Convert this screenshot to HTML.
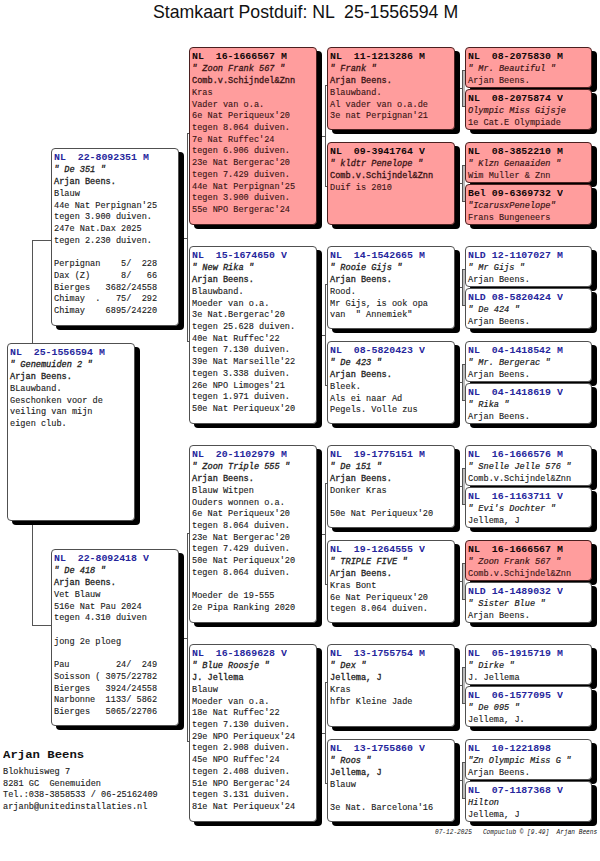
<!DOCTYPE html>
<html><head><meta charset="utf-8"><style>
html,body{margin:0;padding:0;background:#fff;}
body{width:600px;height:861px;position:relative;overflow:hidden;font-family:"Liberation Mono",monospace;}
.t{position:absolute;left:153px;top:0px;font-family:"Liberation Sans",sans-serif;font-size:17.7px;color:#111;white-space:pre;line-height:24px;}
.r{-webkit-text-stroke:.12px #1a1a1a;}
.b{position:absolute;box-sizing:border-box;width:128px;border:1px solid #505050;border-radius:4px;background:#fff;box-shadow:5px 4px 0 0 #000;color:#1a1a1a;}
.b.p{background:#ff9d9d;border-color:#4a2020;}
.l{position:absolute;background:#555;}
.h,.n,.o,.r,.i{position:absolute;left:2px;white-space:pre;}
.h{font-weight:bold;font-size:9.9px;line-height:11px;color:#26269c;transform:scaleY(.87);transform-origin:0 8px;}
.p .h{color:#120808;}
.n,.o,.r,.i{font-size:8.6px;line-height:10px;transform:scaleY(.95);transform-origin:0 7px;}
.n{font-style:italic;color:#222;-webkit-text-stroke:.3px #222;}
.i{font-style:italic;color:#1a1a1a;-webkit-text-stroke:.2px #1a1a1a;}
.o{color:#222;-webkit-text-stroke:.3px #222;}
.p .n,.p .o,.p .r,.p .i{color:#3a1414;-webkit-text-stroke-color:#3a1414;}
.e{height:11.7px;}
</style></head><body>
<div class="t">Stamkaart Postduif: NL  25-1556594 M</div>
<div class="l" style="left:32px;top:240px;width:1px;height:386px"></div>
<div class="l" style="left:32px;top:240px;width:20px;height:1px"></div>
<div class="l" style="left:32px;top:625px;width:20px;height:1px"></div>
<div class="l" style="left:187px;top:133px;width:1px;height:209px"></div>
<div class="l" style="left:187px;top:133px;width:3px;height:1px"></div>
<div class="l" style="left:187px;top:341px;width:3px;height:1px"></div>
<div class="l" style="left:183px;top:238px;width:5px;height:1px"></div>
<div class="l" style="left:187px;top:533px;width:1px;height:209px"></div>
<div class="l" style="left:187px;top:533px;width:3px;height:1px"></div>
<div class="l" style="left:187px;top:741px;width:3px;height:1px"></div>
<div class="l" style="left:183px;top:638px;width:5px;height:1px"></div>
<div class="l" style="left:325px;top:85px;width:1px;height:102px"></div>
<div class="l" style="left:325px;top:85px;width:3px;height:1px"></div>
<div class="l" style="left:325px;top:186px;width:3px;height:1px"></div>
<div class="l" style="left:322px;top:136px;width:4px;height:1px"></div>
<div style="position:absolute;left:462px;top:70px;width:2px;height:35px;border:1px solid #555;border-right:none;background:#bbb"></div>
<div class="l" style="left:459px;top:88px;width:4px;height:1px"></div>
<div style="position:absolute;left:462px;top:165px;width:2px;height:35px;border:1px solid #555;border-right:none;background:#bbb"></div>
<div class="l" style="left:459px;top:183px;width:4px;height:1px"></div>
<div class="l" style="left:325px;top:284px;width:1px;height:102px"></div>
<div class="l" style="left:325px;top:284px;width:3px;height:1px"></div>
<div class="l" style="left:325px;top:385px;width:3px;height:1px"></div>
<div class="l" style="left:322px;top:335px;width:4px;height:1px"></div>
<div style="position:absolute;left:462px;top:269px;width:2px;height:35px;border:1px solid #555;border-right:none;background:#bbb"></div>
<div class="l" style="left:459px;top:287px;width:4px;height:1px"></div>
<div style="position:absolute;left:462px;top:364px;width:2px;height:35px;border:1px solid #555;border-right:none;background:#bbb"></div>
<div class="l" style="left:459px;top:382px;width:4px;height:1px"></div>
<div class="l" style="left:325px;top:483px;width:1px;height:102px"></div>
<div class="l" style="left:325px;top:483px;width:3px;height:1px"></div>
<div class="l" style="left:325px;top:584px;width:3px;height:1px"></div>
<div class="l" style="left:322px;top:534px;width:4px;height:1px"></div>
<div style="position:absolute;left:462px;top:468px;width:2px;height:35px;border:1px solid #555;border-right:none;background:#bbb"></div>
<div class="l" style="left:459px;top:486px;width:4px;height:1px"></div>
<div style="position:absolute;left:462px;top:563px;width:2px;height:35px;border:1px solid #555;border-right:none;background:#bbb"></div>
<div class="l" style="left:459px;top:581px;width:4px;height:1px"></div>
<div class="l" style="left:325px;top:682px;width:1px;height:102px"></div>
<div class="l" style="left:325px;top:682px;width:3px;height:1px"></div>
<div class="l" style="left:325px;top:783px;width:3px;height:1px"></div>
<div class="l" style="left:322px;top:733px;width:4px;height:1px"></div>
<div style="position:absolute;left:462px;top:667px;width:2px;height:35px;border:1px solid #555;border-right:none;background:#bbb"></div>
<div class="l" style="left:459px;top:685px;width:4px;height:1px"></div>
<div style="position:absolute;left:462px;top:762px;width:2px;height:35px;border:1px solid #555;border-right:none;background:#bbb"></div>
<div class="l" style="left:459px;top:780px;width:4px;height:1px"></div>
<div class="b" style="left:7px;top:343px;height:178px"><div class="h" style="top:2.80px">NL  25-1556594 M</div><div class="n" style="top:16.40px">&quot; Genemuiden 2 &quot;</div><div class="o" style="top:28.12px">Arjan Beens.</div><div class="r" style="top:39.84px">BLauwband.</div><div class="r" style="top:51.56px">Geschonken voor de</div><div class="r" style="top:63.28px">veiling van mijn</div><div class="r" style="top:75.00px">eigen club.</div></div>
<div class="b" style="left:51px;top:148px;height:178px"><div class="h" style="top:2.80px">NL  22-8092351 M</div><div class="n" style="top:16.40px">&quot; De 351 &quot;</div><div class="o" style="top:28.12px">Arjan Beens.</div><div class="r" style="top:39.84px">Blauw</div><div class="r" style="top:51.56px">44e Nat Perpignan&#x27;25</div><div class="r" style="top:63.28px">tegen 3.900 duiven.</div><div class="r" style="top:75.00px">247e Nat.Dax 2025</div><div class="r" style="top:86.72px">tegen 2.230 duiven.</div><div class="r" style="top:110.16px">Perpignan    5/  228</div><div class="r" style="top:121.88px">Dax (Z)      8/   66</div><div class="r" style="top:133.60px">Bierges   3682/24558</div><div class="r" style="top:145.32px">Chimay  .   75/  292</div><div class="r" style="top:157.04px">Chimay    6895/24220</div></div>
<div class="b" style="left:51px;top:549px;height:177px"><div class="h" style="top:2.80px">NL  22-8092418 V</div><div class="n" style="top:16.40px">&quot; De 418 &quot;</div><div class="o" style="top:28.12px">Arjan Beens.</div><div class="r" style="top:39.84px">Vet Blauw</div><div class="r" style="top:51.56px">516e Nat Pau 2024</div><div class="r" style="top:63.28px">tegen 4.310 duiven</div><div class="r" style="top:86.72px">jong 2e ploeg</div><div class="r" style="top:110.16px">Pau         24/  249</div><div class="r" style="top:121.88px">Soisson ( 3075/22782</div><div class="r" style="top:133.60px">Bierges   3924/24558</div><div class="r" style="top:145.32px">Narbonne  1133/ 5862</div><div class="r" style="top:157.04px">Bierges   5065/22706</div></div>
<div class="b p" style="left:189px;top:47px;height:178px"><div class="h" style="top:2.80px">NL  16-1666567 M</div><div class="n" style="top:16.40px">&quot; Zoon Frank 567 &quot;</div><div class="o" style="top:28.12px">Comb.v.Schijndel&amp;Znn</div><div class="r" style="top:39.84px">Kras</div><div class="r" style="top:51.56px">Vader van o.a.</div><div class="r" style="top:63.28px">6e Nat Periqueux&#x27;20</div><div class="r" style="top:75.00px">tegen 8.064 duiven.</div><div class="r" style="top:86.72px">7e Nat Ruffec&#x27;24</div><div class="r" style="top:98.44px">tegen 6.906 duiven.</div><div class="r" style="top:110.16px">23e Nat Bergerac&#x27;20</div><div class="r" style="top:121.88px">tegen 7.429 duiven.</div><div class="r" style="top:133.60px">44e Nat Perpignan&#x27;25</div><div class="r" style="top:145.32px">tegen 3.900 duiven.</div><div class="r" style="top:157.04px">55e NPO Bergerac&#x27;24</div></div>
<div class="b" style="left:189px;top:246px;height:178px"><div class="h" style="top:2.80px">NL  15-1674650 V</div><div class="n" style="top:16.40px">&quot; New Rika &quot;</div><div class="o" style="top:28.12px">Arjan Beens.</div><div class="r" style="top:39.84px">Blauwband.</div><div class="r" style="top:51.56px">Moeder van o.a.</div><div class="r" style="top:63.28px">3e Nat.Bergerac&#x27;20</div><div class="r" style="top:75.00px">tegen 25.628 duiven.</div><div class="r" style="top:86.72px">40e Nat Ruffec&#x27;22</div><div class="r" style="top:98.44px">tegen 7.130 duiven.</div><div class="r" style="top:110.16px">39e Nat Marseille&#x27;22</div><div class="r" style="top:121.88px">tegen 3.338 duiven.</div><div class="r" style="top:133.60px">26e NPO Limoges&#x27;21</div><div class="r" style="top:145.32px">tegen 1.971 duiven.</div><div class="r" style="top:157.04px">50e Nat Periqueux&#x27;20</div></div>
<div class="b" style="left:189px;top:445px;height:178px"><div class="h" style="top:2.80px">NL  20-1102979 M</div><div class="n" style="top:16.40px">&quot; Zoon Triple 555 &quot;</div><div class="o" style="top:28.12px">Arjan Beens.</div><div class="r" style="top:39.84px">Blauw Witpen</div><div class="r" style="top:51.56px">Ouders wonnen o.a.</div><div class="r" style="top:63.28px">6e Nat Periqueux&#x27;20</div><div class="r" style="top:75.00px">tegen 8.064 duiven.</div><div class="r" style="top:86.72px">23e Nat Bergerac&#x27;20</div><div class="r" style="top:98.44px">tegen 7.429 duiven.</div><div class="r" style="top:110.16px">50e Nat Periqueux&#x27;20</div><div class="r" style="top:121.88px">tegen 8.064 duiven.</div><div class="r" style="top:145.32px">Moeder de 19-555</div><div class="r" style="top:157.04px">2e Pipa Ranking 2020</div></div>
<div class="b" style="left:189px;top:644px;height:178px"><div class="h" style="top:2.80px">NL  16-1869628 V</div><div class="n" style="top:16.40px">&quot; Blue Roosje &quot;</div><div class="o" style="top:28.12px">J. Jellema</div><div class="r" style="top:39.84px">Blauw</div><div class="r" style="top:51.56px">Moeder van o.a.</div><div class="r" style="top:63.28px">18e Nat Ruffec&#x27;22</div><div class="r" style="top:75.00px">tegen 7.130 duiven.</div><div class="r" style="top:86.72px">29e NPO Periqueux&#x27;24</div><div class="r" style="top:98.44px">tegen 2.908 duiven.</div><div class="r" style="top:110.16px">45e NPO Ruffec&#x27;24</div><div class="r" style="top:121.88px">tegen 2.408 duiven.</div><div class="r" style="top:133.60px">51e NPO Bergerac&#x27;24</div><div class="r" style="top:145.32px">tegen 3.131 duiven.</div><div class="r" style="top:157.04px">81e Nat Periqueux&#x27;24</div></div>
<div class="b p" style="left:327px;top:47px;height:83px"><div class="h" style="top:2.80px">NL  11-1213286 M</div><div class="n" style="top:16.40px">&quot; Frank &quot;</div><div class="o" style="top:28.12px">Arjan Beens.</div><div class="r" style="top:39.84px">Blauwband.</div><div class="r" style="top:51.56px">Al vader van o.a.de</div><div class="r" style="top:63.28px">3e nat Perpignan&#x27;21</div></div>
<div class="b p" style="left:327px;top:142px;height:83px"><div class="h" style="top:2.80px">NL  09-3941764 V</div><div class="n" style="top:16.40px">&quot; kldtr Penelope &quot;</div><div class="o" style="top:28.12px">Comb.v.Schijndel&amp;Znn</div><div class="r" style="top:39.84px">Duif is 2010</div></div>
<div class="b" style="left:327px;top:246px;height:83px"><div class="h" style="top:2.80px">NL  14-1542665 M</div><div class="n" style="top:16.40px">&quot; Rooie Gijs &quot;</div><div class="o" style="top:28.12px">Arjan Beens.</div><div class="r" style="top:39.84px">Rood.</div><div class="r" style="top:51.56px">Mr Gijs, is ook opa</div><div class="r" style="top:63.28px">van  &quot; Annemiek&quot;</div></div>
<div class="b" style="left:327px;top:341px;height:83px"><div class="h" style="top:2.80px">NL  08-5820423 V</div><div class="n" style="top:16.40px">&quot; De 423 &quot;</div><div class="o" style="top:28.12px">Arjan Beens.</div><div class="r" style="top:39.84px">Bleek.</div><div class="r" style="top:51.56px">Als ei naar Ad</div><div class="r" style="top:63.28px">Pegels. Volle zus</div></div>
<div class="b" style="left:327px;top:445px;height:83px"><div class="h" style="top:2.80px">NL  19-1775151 M</div><div class="n" style="top:16.40px">&quot; De 151 &quot;</div><div class="o" style="top:28.12px">Arjan Beens.</div><div class="r" style="top:39.84px">Donker Kras</div><div class="r" style="top:63.28px">50e Nat Periqueux&#x27;20</div></div>
<div class="b" style="left:327px;top:540px;height:83px"><div class="h" style="top:2.80px">NL  19-1264555 V</div><div class="n" style="top:16.40px">&quot; TRIPLE FIVE &quot;</div><div class="o" style="top:28.12px">Arjan Beens.</div><div class="r" style="top:39.84px">Kras Bont</div><div class="r" style="top:51.56px">6e Nat Periqueux&#x27;20</div><div class="r" style="top:63.28px">tegen 8.064 duiven.</div></div>
<div class="b" style="left:327px;top:644px;height:83px"><div class="h" style="top:2.80px">NL  13-1755754 M</div><div class="n" style="top:16.40px">&quot; Dex &quot;</div><div class="o" style="top:28.12px">Jellema, J</div><div class="r" style="top:39.84px">Kras</div><div class="r" style="top:51.56px">hfbr Kleine Jade</div></div>
<div class="b" style="left:327px;top:739px;height:83px"><div class="h" style="top:2.80px">NL  13-1755860 V</div><div class="n" style="top:16.40px">&quot; Roos &quot;</div><div class="o" style="top:28.12px">Jellema, J</div><div class="r" style="top:39.84px">Blauw</div><div class="r" style="top:63.28px">3e Nat. Barcelona&#x27;16</div></div>
<div class="b p" style="left:465px;top:47px;height:41px;width:127px"><div class="h" style="top:2.80px">NL  08-2075830 M</div><div class="i" style="top:16.40px">&quot; Mr. Beautiful &quot;</div><div class="r" style="top:28.12px">Arjan Beens.</div></div>
<div class="b p" style="left:465px;top:89px;height:41px;width:127px"><div class="h" style="top:2.80px">NL  08-2075874 V</div><div class="i" style="top:16.40px">Olympic Miss Gijsje</div><div class="r" style="top:28.12px">1e Cat.E Olympiade</div></div>
<div class="b p" style="left:465px;top:142px;height:41px;width:127px"><div class="h" style="top:2.80px">NL  08-3852210 M</div><div class="i" style="top:16.40px">&quot; Klzn Genaaiden &quot;</div><div class="r" style="top:28.12px">Wim Muller &amp; Znn</div></div>
<div class="b p" style="left:465px;top:184px;height:41px;width:127px"><div class="h" style="top:2.80px">Bel 09-6369732 V</div><div class="i" style="top:16.40px">&quot;IcarusxPenelope&quot;</div><div class="r" style="top:28.12px">Frans Bungeneers</div></div>
<div class="b" style="left:465px;top:246px;height:41px;width:127px"><div class="h" style="top:2.80px">NLD 12-1107027 M</div><div class="i" style="top:16.40px">&quot; Mr Gijs &quot;</div><div class="r" style="top:28.12px">Arjan Beens.</div></div>
<div class="b" style="left:465px;top:288px;height:41px;width:127px"><div class="h" style="top:2.80px">NLD 08-5820424 V</div><div class="i" style="top:16.40px">&quot; De 424 &quot;</div><div class="r" style="top:28.12px">Arjan Beens.</div></div>
<div class="b" style="left:465px;top:341px;height:41px;width:127px"><div class="h" style="top:2.80px">NL  04-1418542 M</div><div class="i" style="top:16.40px">&quot; Mr. Bergerac &quot;</div><div class="r" style="top:28.12px">Arjan Beens.</div></div>
<div class="b" style="left:465px;top:383px;height:41px;width:127px"><div class="h" style="top:2.80px">NL  04-1418619 V</div><div class="i" style="top:16.40px">&quot; Rika &quot;</div><div class="r" style="top:28.12px">Arjan Beens.</div></div>
<div class="b" style="left:465px;top:445px;height:41px;width:127px"><div class="h" style="top:2.80px">NL  16-1666576 M</div><div class="i" style="top:16.40px">&quot; Snelle Jelle 576 &quot;</div><div class="r" style="top:28.12px">Comb.v.Schijndel&amp;Znn</div></div>
<div class="b" style="left:465px;top:487px;height:41px;width:127px"><div class="h" style="top:2.80px">NL  16-1163711 V</div><div class="i" style="top:16.40px">&quot; Evi&#x27;s Dochter &quot;</div><div class="r" style="top:28.12px">Jellema, J</div></div>
<div class="b p" style="left:465px;top:540px;height:41px;width:127px"><div class="h" style="top:2.80px">NL  16-1666567 M</div><div class="i" style="top:16.40px">&quot; Zoon Frank 567 &quot;</div><div class="r" style="top:28.12px">Comb.v.Schijndel&amp;Znn</div></div>
<div class="b" style="left:465px;top:582px;height:41px;width:127px"><div class="h" style="top:2.80px">NLD 14-1489032 V</div><div class="i" style="top:16.40px">&quot; Sister Blue &quot;</div><div class="r" style="top:28.12px">Arjan Beens.</div></div>
<div class="b" style="left:465px;top:644px;height:41px;width:127px"><div class="h" style="top:2.80px">NL  05-1915719 M</div><div class="i" style="top:16.40px">&quot; Dirke &quot;</div><div class="r" style="top:28.12px">J. Jellema</div></div>
<div class="b" style="left:465px;top:686px;height:41px;width:127px"><div class="h" style="top:2.80px">NL  06-1577095 V</div><div class="i" style="top:16.40px">&quot; De 095 &quot;</div><div class="r" style="top:28.12px">Jellema, J.</div></div>
<div class="b" style="left:465px;top:739px;height:41px;width:127px"><div class="h" style="top:2.80px">NL  10-1221898</div><div class="i" style="top:16.40px">&quot;Zn Olympic Miss G &quot;</div><div class="r" style="top:28.12px">Arjan Beens.</div></div>
<div class="b" style="left:465px;top:781px;height:41px;width:127px"><div class="h" style="top:2.80px">NL  07-1187368 V</div><div class="i" style="top:16.40px">Hilton</div><div class="r" style="top:28.12px">Jellema, J</div></div>
<div style="position:absolute;left:3px;top:747.90px;font-size:12.3px;font-weight:bold;color:#111;line-height:14px;white-space:pre;transform:scaleY(.9);transform-origin:0 11px">Arjan Beens</div>
<div class="r" style="left:3px;top:766.80px;color:#222">Blokhuisweg 7</div>
<div class="r" style="left:3px;top:778.52px;color:#222">8281 GC  Genemuiden</div>
<div class="r" style="left:3px;top:790.24px;color:#222">Tel.:038-3858533 / 06-25162409</div>
<div class="r" style="left:3px;top:801.96px;color:#222">arjanb@unitedinstallaties.nl</div>
<div style="position:absolute;left:435px;top:829.30px;font-size:6.15px;font-style:italic;line-height:8px;color:#111;white-space:pre;transform:scaleY(1.15);transform-origin:0 6px">07-12-2025   Compuclub &#169; [9.49]  Arjan Beens</div>
</body></html>
